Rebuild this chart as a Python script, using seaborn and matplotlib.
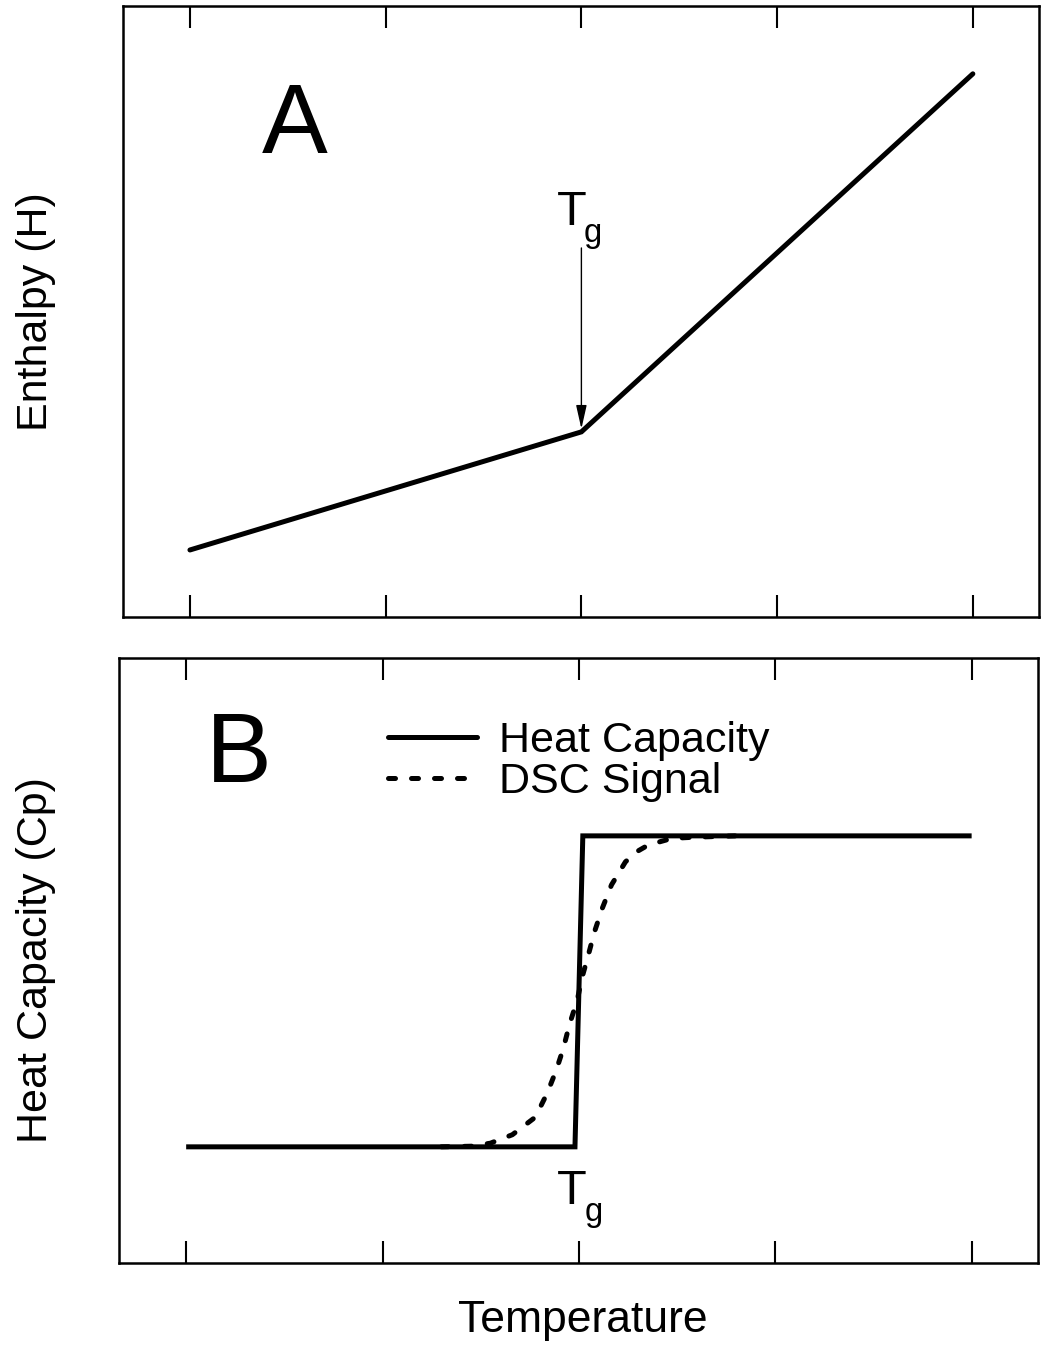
import matplotlib
matplotlib.use("Agg")
import matplotlib.pyplot as plt
import seaborn as sns
import pandas as pd

# ---------------- data ----------------
temp_ticks = [0, 1, 2, 3, 4]

enthalpy_x = [0.0, 2.0, 4.0]
enthalpy_y = [10.97, 30.3, 88.9]

cp_x = [0.0, 1.98, 2.02, 4.0]
cp_y = [19.2, 19.2, 70.6, 70.6]

dsc_x = [1.30, 1.45, 1.549, 1.661, 1.778, 1.839, 1.885, 1.921, 1.951, 1.992,
         2.017, 2.048, 2.079, 2.120, 2.166, 2.237, 2.29, 2.354, 2.476, 2.603, 2.80]
dsc_y = [19.2, 19.3, 19.8, 21.2, 24.1, 28.1, 31.9, 35.5, 39.3, 43.5,
         47.3, 50.9, 54.7, 58.7, 62.5, 66.3, 67.9, 69.1, 70.2, 70.4, 70.6]

series_names = ["Heat Capacity", "DSC Signal"]
ylabel_a = "Enthalpy (H)"
ylabel_b = "Heat Capacity (Cp)"
xlabel_b = "Temperature"

# ---------------- style ----------------
sns.set_style("ticks")
plt.rcParams["font.family"] = ["Liberation Sans", "DejaVu Sans"]
plt.rcParams["text.color"] = "black"
plt.rcParams["axes.labelcolor"] = "black"
plt.rcParams["axes.edgecolor"] = "black"
plt.rcParams["axes.linewidth"] = 1.8

W, H = 1042, 1354
fig = plt.figure(figsize=(W / 100, H / 100), dpi=100)

def px_axes(left, top, right, bottom):
    return fig.add_axes([left / W, 1 - bottom / H, (right - left) / W, (bottom - top) / H])

axA = px_axes(123, 6, 1039, 617)
axB = px_axes(119, 658, 1038, 1263)

LW = 3.6
LABEL_FS = 31
for ax in (axA, axB):
    ax.set_xlim(-0.342, 4.338)
    ax.set_ylim(0, 100)
    ax.set_xticks(temp_ticks)
    ax.set_xticklabels([])
    ax.set_yticks([])
    ax.tick_params(axis="x", which="both", direction="in", length=15.8, width=1.5,
                   top=True, bottom=True, labelbottom=False, labeltop=False, color="black")
    for s in ax.spines.values():
        s.set_color("black")
        s.set_linewidth(1.8)
        s.set_visible(True)

# ---------------- Panel A ----------------
dfA = pd.DataFrame({"T": enthalpy_x, "H": enthalpy_y})
sns.lineplot(data=dfA, x="T", y="H", ax=axA, color="black", lw=LW,
             estimator=None, sort=False, solid_capstyle="round", solid_joinstyle="miter")
axA.set_xlabel("")
axA.set_ylabel("")

axA.text(0.534, 75.9, "A", fontsize=71, ha="center", va="baseline", color="black")
axA.text(1.875, 64.16, "T", fontsize=35, ha="left", va="baseline", color="black")
axA.text(2.013, 61.37, "g", fontsize=23.5, ha="left", va="baseline", color="black")
axA.annotate("", xy=(2.0, 30.8), xytext=(2.0, 60.4),
             arrowprops=dict(arrowstyle="-|>,head_length=0.4,head_width=0.09",
                             mutation_scale=36, lw=1.0, color="black",
                             shrinkA=0, shrinkB=0))

# ---------------- Panel B ----------------
dfCp = pd.DataFrame({"T": cp_x, "Cp": cp_y})
dfDsc = pd.DataFrame({"T": dsc_x, "Cp": dsc_y})
sns.lineplot(data=dfCp, x="T", y="Cp", ax=axB, color="black", lw=LW,
             estimator=None, sort=False, label=series_names[0],
             solid_capstyle="butt", solid_joinstyle="miter")
sns.lineplot(data=dfDsc, x="T", y="Cp", ax=axB, color="black", lw=LW,
             estimator=None, sort=False, label=series_names[1],
             dashes=False)
dsc_line = axB.get_lines()[-1]
dsc_line.set_dashes([1.4, 3.2])
dsc_line.set_dash_capstyle("round")
axB.set_xlabel("")
axB.set_ylabel("")

axB.text(0.27, 79.5, "B", fontsize=71, ha="center", va="baseline", color="black")
axB.text(1.89, 9.75, "T", fontsize=35, ha="left", va="baseline", color="black")
axB.text(2.028, 6.94, "g", fontsize=23.5, ha="left", va="baseline", color="black")

leg = axB.legend(loc="upper left", bbox_to_anchor=(0.293, 0.896), frameon=False,
                 fontsize=LABEL_FS, handlelength=2.05, handletextpad=0.53,
                 labelspacing=0.02, borderpad=0, borderaxespad=0)
for t in leg.get_texts():
    t.set_color("black")
for h in leg.get_lines():
    h.set_linewidth(LW)
    h.set_dash_capstyle("round")
    h.set_solid_capstyle("round")

# ---------------- axis titles (figure text, pixel positions) ----------------
fig.text(36 / W, 1 - 312 / H, ylabel_a, fontsize=LABEL_FS, rotation=90,
         ha="center", va="center", color="black")
fig.text(36 / W, 1 - 960.5 / H, ylabel_b, fontsize=LABEL_FS, rotation=90,
         ha="center", va="center", color="black")
fig.text(583 / W, 1 - 1332 / H, xlabel_b, fontsize=32,
         ha="center", va="baseline", color="black")

fig.savefig("out.png", dpi=100)
